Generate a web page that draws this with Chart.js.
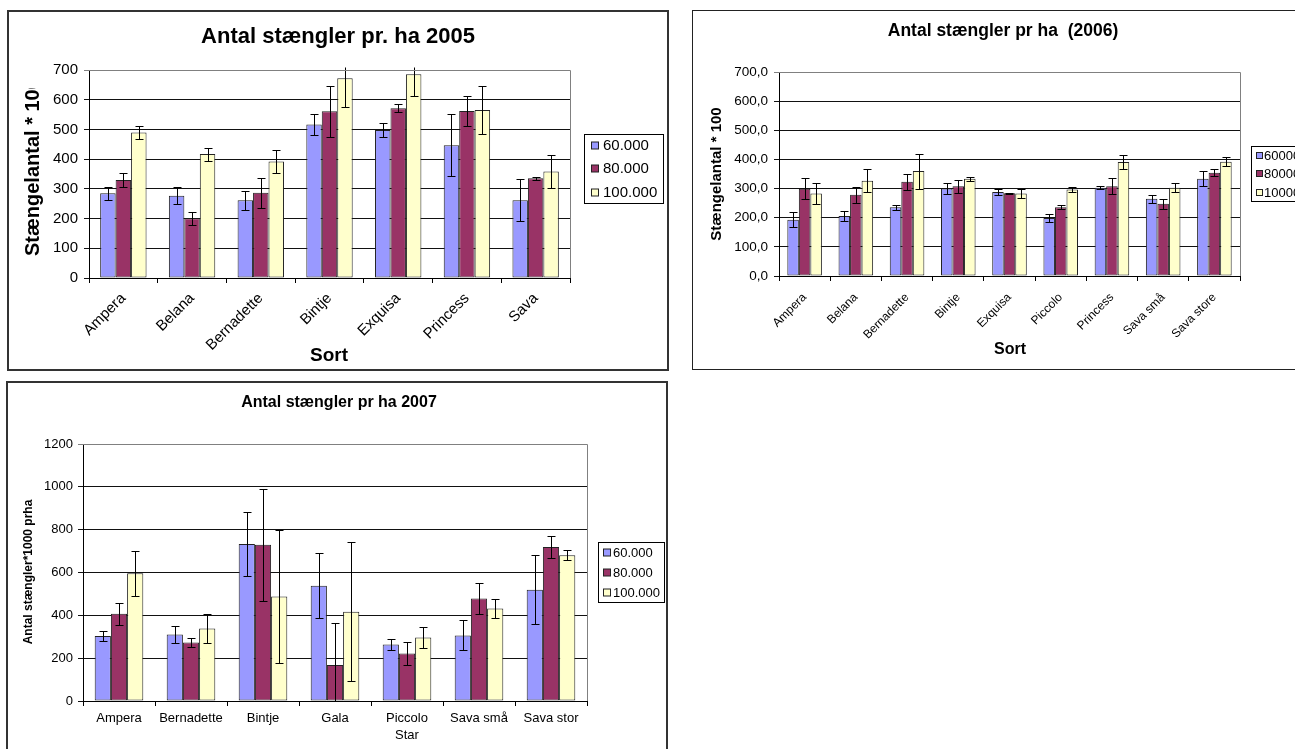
<!DOCTYPE html>
<html lang="da">
<head>
<meta charset="utf-8">
<title>Antal stængler pr. ha</title>
<script src="https://cdn.jsdelivr.net/npm/chart.js@4.4.1/dist/chart.umd.min.js"></script>
<style>
  html, body { margin: 0; padding: 0; background: #fff; overflow: hidden; }
  body { width: 1295px; height: 749px; position: relative; }
  .box { position: absolute; background: #fff; }
  .box canvas { display: block; }
  #box2005 { left: 7px; top: 10px; border: 2px solid #333; }
  #box2006 { left: 692px; top: 10px; border: 1px solid #222; }
  #box2007 { left: 6px; top: 381px; border: 2px solid #333; }
</style>
</head>
<body>
<div class="box" id="box2005"><canvas id="chart2005" width="658" height="357"></canvas></div>
<div class="box" id="box2006"><canvas id="chart2006" width="618" height="358"></canvas></div>
<div class="box" id="box2007"><canvas id="chart2007" width="658" height="380"></canvas></div>
<script>
// --- data ---
const plantings = ['60.000', '80.000', '100.000'];
const plantings2006 = ['60000', '80000', '100000'];

// 2005
const sorts2005 = ['Ampera', 'Belana', 'Bernadette', 'Bintje', 'Exquisa', 'Princess', 'Sava'];
const stems2005_60 = [285, 277, 262, 517, 498, 447, 262];
const stems2005_80 = [330, 201, 287, 561, 571, 562, 336];
const stems2005_100 = [490, 417, 392, 672, 686, 565, 358];
const err2005_60 = [22, 29, 32, 35, 24, 104, 71];
const err2005_80 = [25, 21, 50, 85, 14, 49, 5];
const err2005_100 = [22, 22, 40, 97, 72, 81, 55];

// 2006
const sorts2006 = ['Ampera', 'Belana', 'Bernadette', 'Bintje', 'Exquisa', 'Piccolo', 'Princess', 'Sava små', 'Sava store'];
const stems2006_60 = [193, 206, 236, 300, 288, 199, 303, 265, 334];
const stems2006_80 = [299, 279, 323, 308, 284, 236, 308, 248, 354];
const stems2006_100 = [283, 327, 360, 334, 283, 297, 391, 303, 392];
const err2006_60 = [25, 16, 9, 19, 10, 15, 6, 14, 26];
const err2006_80 = [36, 28, 27, 22, 2, 6, 27, 17, 12];
const err2006_100 = [36, 39, 60, 7, 14, 10, 23, 15, 15];

// 2007
const sorts2007 = ['Ampera', 'Bernadette', 'Bintje', 'Gala', ['Piccolo', 'Star'], 'Sava små', 'Sava stor'];
const stems2007_60 = [304, 310, 733, 538, 264, 306, 520];
const stems2007_80 = [407, 273, 729, 168, 222, 479, 719];
const stems2007_100 = [596, 339, 488, 417, 296, 432, 680];
const err2007_60 = [23, 40, 151, 151, 24, 70, 160];
const err2007_80 = [51, 20, 263, 197, 53, 72, 52];
const err2007_100 = [106, 66, 310, 324, 49, 46, 23];

// y axis ranges
const yMax2005 = 700, yStep2005 = 100;
const yMax2006 = 700, yStep2006 = 100;
const yMax2007 = 1200, yStep2007 = 200;

const FONT = '"Liberation Sans", Arial, sans-serif';
const colors = ['#9999FF', '#993366', '#FFFFCC'];

// error bars, titles, legend box and the grey plot frame, excel style
const excelBits = {
    id: 'excelBits',
    afterDatasetsDraw(chart, args, o) {
        const { ctx, chartArea } = chart;
        const y = chart.scales.y;
        ctx.save();
        ctx.strokeStyle = '#000';
        ctx.lineWidth = 1;
        chart.data.datasets.forEach((ds, i) => {
            chart.getDatasetMeta(i).data.forEach((bar, j) => {
                const v = ds.data[j], e = ds.errors[j];
                let top = y.getPixelForValue(v + e);
                let bot = y.getPixelForValue(v - e);
                const topCap = top >= chartArea.top;
                const botCap = bot <= chartArea.bottom;
                top = Math.max(top, chartArea.top - 3);
                bot = Math.min(bot, chartArea.bottom);
                const x = Math.round(bar.x) + 0.5;
                ctx.beginPath();
                ctx.moveTo(x, Math.round(top) + 0.5);
                ctx.lineTo(x, Math.round(bot) + 0.5);
                if (topCap) {
                    ctx.moveTo(x - o.cap, Math.round(top) + 0.5);
                    ctx.lineTo(x + o.cap, Math.round(top) + 0.5);
                }
                if (botCap) {
                    ctx.moveTo(x - o.cap, Math.round(bot) + 0.5);
                    ctx.lineTo(x + o.cap, Math.round(bot) + 0.5);
                }
                ctx.stroke();
            });
        });
        ctx.restore();
    },
    afterDraw(chart, args, o) {
        const { ctx, chartArea } = chart;
        ctx.save();
        // grey plot frame, top and right
        ctx.strokeStyle = '#808080';
        ctx.lineWidth = 1;
        ctx.beginPath();
        ctx.moveTo(chartArea.left, chartArea.top + 0.5);
        ctx.lineTo(chartArea.right + 0.5, chartArea.top + 0.5);
        ctx.lineTo(chartArea.right + 0.5, chartArea.bottom);
        ctx.stroke();

        ctx.fillStyle = '#000';
        ctx.textBaseline = 'middle';
        // chart title
        ctx.font = o.title.font;
        ctx.textAlign = 'center';
        ctx.fillText(o.title.text, o.title.x, o.title.y);
        // x title
        if (o.xTitle) {
            ctx.font = o.xTitle.font;
            ctx.fillText(o.xTitle.text, o.xTitle.x, o.xTitle.y);
        }
        // y title, rotated; may be cut at the top like the original
        ctx.save();
        if (o.yTitle.clipTop !== undefined) {
            ctx.beginPath();
            ctx.rect(0, o.yTitle.clipTop, chartArea.left, chart.height);
            ctx.clip();
        }
        ctx.translate(o.yTitle.x, o.yTitle.y);
        ctx.rotate(-Math.PI / 2);
        ctx.font = o.yTitle.font;
        ctx.textAlign = o.yTitle.align;
        ctx.fillText(o.yTitle.text, 0, 0);
        ctx.restore();

        // legend box
        const L = o.legend;
        ctx.strokeStyle = '#000';
        ctx.strokeRect(L.x + 0.5, L.y + 0.5, L.w, L.h);
        ctx.font = L.font;
        ctx.textAlign = 'left';
        chart.data.datasets.forEach((ds, i) => {
            const ry = L.rows[i];
            ctx.fillStyle = ds.backgroundColor;
            ctx.fillRect(L.boxX + 0.5, ry - L.box / 2 + 0.5, L.box, L.box);
            ctx.strokeStyle = '#222';
            ctx.strokeRect(L.boxX + 0.5, ry - L.box / 2 + 0.5, L.box, L.box);
            ctx.fillStyle = '#000';
            ctx.fillText(ds.label, L.textX, ry + 1);
        });
        ctx.restore();
    }
};

function barSet(labels, values, errors) {
    return values.map((v, i) => ({
        label: labels[i],
        data: v,
        errors: errors[i],
        backgroundColor: colors[i],
        borderColor: '#222',
        borderWidth: 1,
        borderSkipped: false,
        barPercentage: 1.0,
        categoryPercentage: 0.675,
    }));
}

function makeChart(id, sorts, sets, s) {
    return new Chart(document.getElementById(id).getContext('2d'), {
        type: 'bar',
        data: { labels: sorts, datasets: sets },
        options: {
            responsive: false,
            animation: false,
            devicePixelRatio: 1,
            layout: { padding: { left: 0, top: s.top, right: s.right, bottom: 0 } },
            plugins: {
                legend: { display: false },
                title: { display: false },
                tooltip: { enabled: false },
                excelBits: s.bits,
            },
            scales: {
                x: {
                    afterFit: (a) => { a.height = s.xHeight; },
                    grid: { display: true, offset: true, drawOnChartArea: false, drawTicks: true, tickLength: 5, color: '#000' },
                    border: { display: true, color: '#000', width: 1 },
                    ticks: {
                        autoSkip: false,
                        minRotation: s.rot, maxRotation: s.rot,
                        padding: s.xPad,
                        color: '#000',
                        font: { family: FONT, size: s.xFont, lineHeight: 1.3 },
                    },
                },
                y: {
                    min: 0, max: s.max,
                    afterFit: (a) => { a.width = s.yWidth; },
                    grid: {
                        color: (c) => (c.tick && c.tick.value === s.max ? '#808080' : '#111'),
                        tickLength: 5,
                        lineWidth: 1,
                    },
                    border: { display: true, color: '#000', width: 1 },
                    ticks: {
                        stepSize: s.step,
                        padding: s.yPad,
                        color: '#000',
                        font: { family: FONT, size: s.yFont },
                        callback: s.fmt,
                    },
                },
            },
        },
        plugins: [excelBits],
    });
}

document.addEventListener('DOMContentLoaded', () => {
    // Antal stængler pr. ha 2005
    makeChart('chart2005', sorts2005,
        barSet(plantings, [stems2005_60, stems2005_80, stems2005_100], [err2005_60, err2005_80, err2005_100]), {
            top: 58, right: 97, xHeight: 91, yWidth: 80, max: yMax2005, step: yStep2005,
            rot: 45, xPad: 6, xFont: 15, yPad: 6, yFont: 15,
            fmt: (v) => String(v),
            bits: {
                cap: 4,
                title: { text: 'Antal stængler pr. ha 2005', font: 'bold 22px ' + FONT, x: 329, y: 25 },
                xTitle: { text: 'Sort', font: 'bold 19px ' + FONT, x: 320, y: 344 },
                yTitle: { text: 'Stængelantal * 100', font: 'bold 20px ' + FONT, x: 24, y: 244, align: 'left', clipTop: 76 },
                legend: { x: 575, y: 122, w: 79, h: 69, rows: [133, 156, 180], box: 7, boxX: 582, textX: 594, font: '15px ' + FONT },
            },
        });

    // Antal stængler pr ha (2006)
    makeChart('chart2006', sorts2006,
        barSet(plantings2006, [stems2006_60, stems2006_80, stems2006_100], [err2006_60, err2006_80, err2006_100]), {
            top: 61, right: 71, xHeight: 93, yWidth: 86, max: yMax2006, step: yStep2006,
            rot: 45, xPad: 9, xFont: 12, yPad: 6, yFont: 13.5,
            fmt: (v) => v.toFixed(1).replace('.', ','),
            bits: {
                cap: 4,
                title: { text: 'Antal stængler pr ha  (2006)', font: 'bold 17.5px ' + FONT, x: 310, y: 20 },
                xTitle: { text: 'Sort', font: 'bold 16px ' + FONT, x: 317, y: 339 },
                yTitle: { text: 'Stængelantal * 100', font: 'bold 15px ' + FONT, x: 24, y: 163, align: 'center' },
                legend: { x: 558, y: 135, w: 62, h: 55, rows: [144, 162, 181], box: 6, boxX: 563, textX: 571, font: '13px ' + FONT },
            },
        });

    // Antal stængler pr ha 2007
    makeChart('chart2007', sorts2007,
        barSet(plantings, [stems2007_60, stems2007_80, stems2007_100], [err2007_60, err2007_80, err2007_100]), {
            top: 61, right: 79, xHeight: 62, yWidth: 75, max: yMax2007, step: yStep2007,
            rot: 0, xPad: 4, xFont: 13, yPad: 5, yFont: 13,
            fmt: (v) => String(v),
            bits: {
                cap: 4,
                title: { text: 'Antal stængler pr ha 2007', font: 'bold 16px ' + FONT, x: 331, y: 20 },
                yTitle: { text: 'Antal stængler*1000 prha', font: 'bold 12px ' + FONT, x: 21, y: 189, align: 'center' },
                legend: { x: 590, y: 159, w: 66, h: 60, rows: [169, 189, 209], box: 7, boxX: 595, textX: 605, font: '13px ' + FONT },
            },
        });
});
</script>
</body>
</html>
